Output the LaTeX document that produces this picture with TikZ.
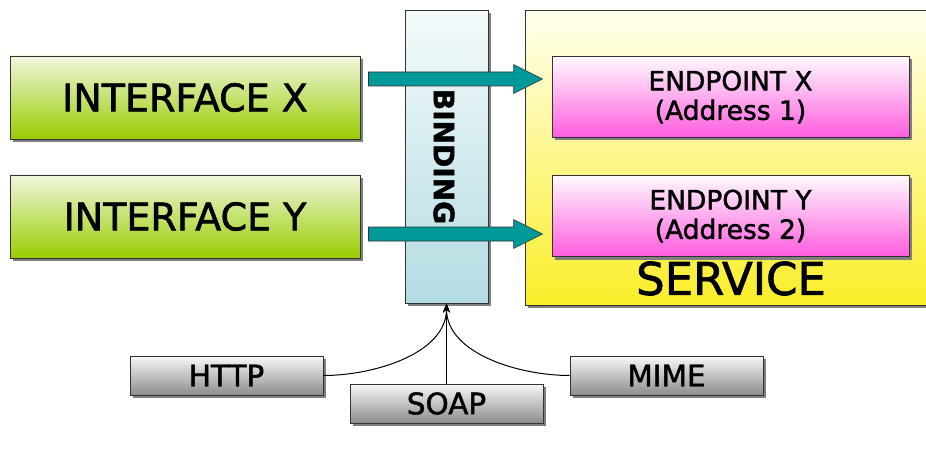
\documentclass[tikz,border=0pt]{standalone}
\usepackage{fontspec}
\setmainfont[FakeBold=1.6]{DejaVu Sans}
\usetikzlibrary{shadows,arrows.meta,calc}

\definecolor{ifTop}{RGB}{240,247,222}
\definecolor{ifBot}{RGB}{153,204,0}
\definecolor{epTop}{RGB}{255,250,254}
\definecolor{epBot}{RGB}{255,92,222}
\definecolor{svTop}{RGB}{255,255,240}
\definecolor{svBot}{RGB}{250,238,40}
\definecolor{bdTop}{RGB}{244,250,251}
\definecolor{bdBot}{RGB}{180,220,226}
\definecolor{grTop}{RGB}{248,248,248}
\definecolor{grBot}{RGB}{140,140,140}
\definecolor{arrowTeal}{RGB}{0,153,153}
\definecolor{edge}{RGB}{50,50,50}

\tikzset{
  box/.style={draw=edge, line width=0.9pt, inner sep=0pt,
    drop shadow={shadow xshift=3pt, shadow yshift=-3pt, fill=black!50, opacity=1}},
  iface/.style={box, top color=ifTop, bottom color=ifBot,
    minimum width=350pt, minimum height=83pt, font=\fontsize{38}{42}\selectfont},
  endpt/.style={box, top color=epTop, bottom color=epBot,
    minimum width=357pt, minimum height=81pt, align=center,
    font=\fontsize{26.5}{29.5}\selectfont},
  proto/.style={box, top color=grTop, bottom color=grBot,
    minimum width=193pt, minimum height=39pt, font=\fontsize{29.5}{32}\selectfont},
  blockarrow/.style={fill=arrowTeal, draw=edge, line width=0.6pt},
  feed/.style={draw=black, line width=1pt, -{Stealth[length=9pt,width=7pt]}}
}

\begin{document}
\begin{tikzpicture}[x=1pt,y=1pt]
\useasboundingbox (0,0) rectangle (926,-449);

% service container with its label
\node[box, top color=svTop, bottom color=svBot, anchor=north west,
      minimum width=410pt, minimum height=295pt] (svc) at (525,-10) {};
\node[font=\fontsize{45}{50}\selectfont] (svclabel) at (731,-278.5) {SERVICE};

% binding column
\node[box, top color=bdTop, bottom color=bdBot,
      minimum width=83pt, minimum height=293pt] (bind) at (446.5,-156.5) {};
\node[rotate=-90, font=\bfseries\fontsize{28}{32}\selectfont] (bindlabel) at (444,-156.5) {BINDING};

% interfaces
\node[iface] (ifx) at (185,-97.5) {INTERFACE X};
\node[iface] (ify) at (185,-216.5) {INTERFACE Y};

% endpoints
\node[endpt] (epx) at (730.5,-97) {ENDPOINT X\\(Address 1)};
\node[endpt] (epy) at (730.5,-216) {ENDPOINT Y\\(Address 2)};

% protocols
\node[proto] (http) at (226.5,-375.5) {HTTP};
\node[proto] (soap) at (446.5,-403.5) {SOAP};
\node[proto] (mime) at (666.5,-375.5) {MIME};

% block arrows from interfaces to endpoints
\coordinate (a1s) at ($(ifx.east)+(8,18.5)$);
\coordinate (a1e) at ($(epx.west)+(-9,18)$);
\coordinate (a2s) at ($(ify.east)+(8,-17.5)$);
\coordinate (a2e) at ($(epy.west)+(-9,-18)$);
\foreach \s/\e in {a1s/a1e, a2s/a2e}{
  \draw[blockarrow] let \p1=(\s), \p2=(\e) in
    (\x1,{\y1+7pt}) -- ({\x2-29pt},{\y1+7pt}) -- ({\x2-29pt},{\y1+14.5pt})
    -- (\x2,\y1) -- ({\x2-29pt},{\y1-14.5pt}) -- ({\x2-29pt},{\y1-7pt})
    -- (\x1,{\y1-7pt}) -- cycle;
}

% protocols feeding the binding
\draw[feed] (http.east) to[out=0,in=-90,looseness=0.9] (bind.south);
\draw[feed] (mime.west) to[out=180,in=-90,looseness=0.9] (bind.south);
\draw[feed] (soap.north) -- (bind.south);
\end{tikzpicture}
\end{document}
